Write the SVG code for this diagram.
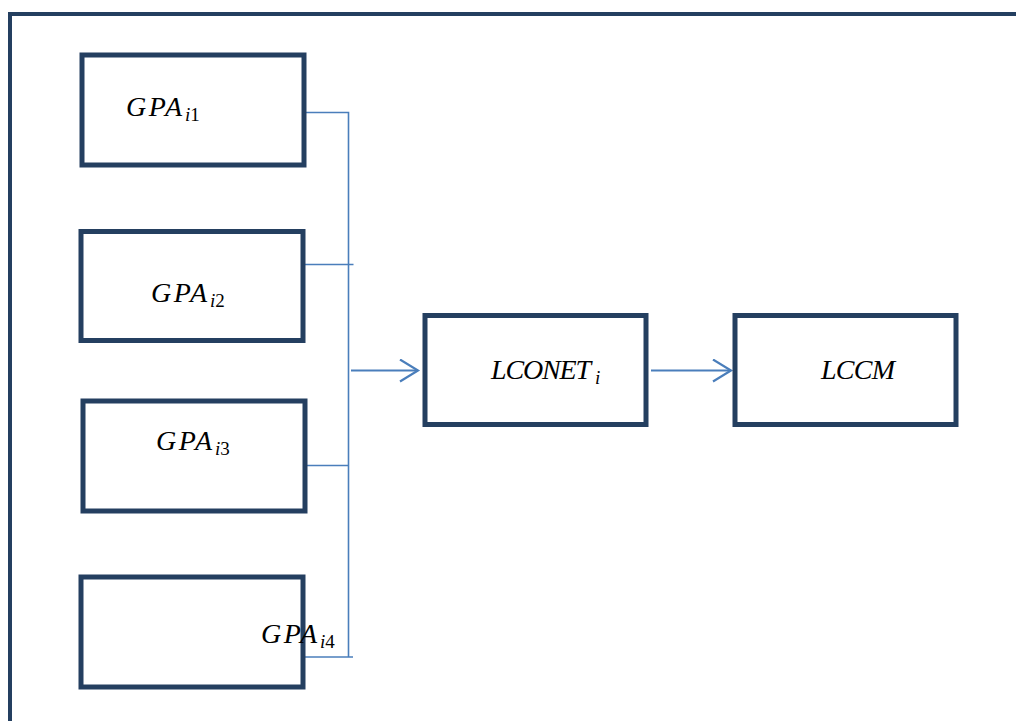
<svg xmlns="http://www.w3.org/2000/svg" width="1016" height="721" viewBox="0 0 1016 721">
  <style>
    .frame { fill: none; stroke: #243F60; stroke-width: 4; }
    .box { fill: #FFFFFF; stroke: #243F60; stroke-width: 5; }
    .wire { fill: none; stroke: #4A7EBB; stroke-width: 1.6; }
    .flow { fill: none; stroke: #4A7EBB; stroke-width: 2.2; }
    .lbl { font-family: "Liberation Serif", "DejaVu Serif", serif; font-style: italic; font-size: 28px; fill: #000000; }
    .sub { font-family: "Liberation Serif", "DejaVu Serif", serif; font-style: italic; font-size: 19px; fill: #000000; }
    .up { font-style: normal; }
  </style>
  <defs>
    <marker id="chevron" markerUnits="userSpaceOnUse" markerWidth="24" markerHeight="26" refX="19" refY="12" orient="auto">
      <path d="M1,1 L19,12 L1,23" fill="none" stroke="#4A7EBB" stroke-width="2.2"/>
    </marker>
  </defs>
  <rect width="1016" height="721" fill="#FFFFFF"/>

  <!-- outer frame: top and left edges only -->
  <path class="frame" d="M10,721 L10,14 L1016,14"/>

  <g id="connectors">
    <path class="wire" d="M305,112.5 L348.5,112.5 L348.5,657"/>
    <path class="wire" d="M305,264.5 L353.5,264.5"/>
    <path class="wire" d="M307,465.5 L348.5,465.5"/>
    <path class="wire" d="M305,657 L353,657"/>
    <path class="flow" d="M351,370.5 L418,370.5" marker-end="url(#chevron)"/>
    <path class="flow" d="M651,370.5 L731,370.5" marker-end="url(#chevron)"/>
  </g>

  <g id="gpa1">
    <rect class="box" x="82" y="55" width="222" height="110"/>
    <text class="lbl" x="126" y="116" textLength="56" lengthAdjust="spacing">GPA</text>
    <text class="sub" x="185" y="121">i<tspan class="up">1</tspan></text>
  </g>
  <g id="gpa2">
    <rect class="box" x="81" y="231.5" width="222" height="109"/>
    <text class="lbl" x="151" y="302" textLength="56" lengthAdjust="spacing">GPA</text>
    <text class="sub" x="210" y="307">i<tspan class="up">2</tspan></text>
  </g>
  <g id="gpa3">
    <rect class="box" x="83" y="401" width="222" height="110"/>
    <text class="lbl" x="156" y="450" textLength="56" lengthAdjust="spacing">GPA</text>
    <text class="sub" x="215" y="455">i<tspan class="up">3</tspan></text>
  </g>
  <g id="gpa4">
    <rect class="box" x="81" y="577" width="222" height="110"/>
    <text class="lbl" x="261" y="643" textLength="56" lengthAdjust="spacing">GPA</text>
    <text class="sub" x="320" y="648">i<tspan class="up">4</tspan></text>
  </g>
  <g id="lconet">
    <rect class="box" x="425" y="315.5" width="221" height="109"/>
    <text class="lbl" x="491" y="379" textLength="100" lengthAdjust="spacing">LCONET</text>
    <text class="sub" x="595" y="384">i</text>
  </g>
  <g id="lccm">
    <rect class="box" x="735" y="315.5" width="221" height="109"/>
    <text class="lbl" x="821" y="379" textLength="74" lengthAdjust="spacing">LCCM</text>
  </g>
</svg>
